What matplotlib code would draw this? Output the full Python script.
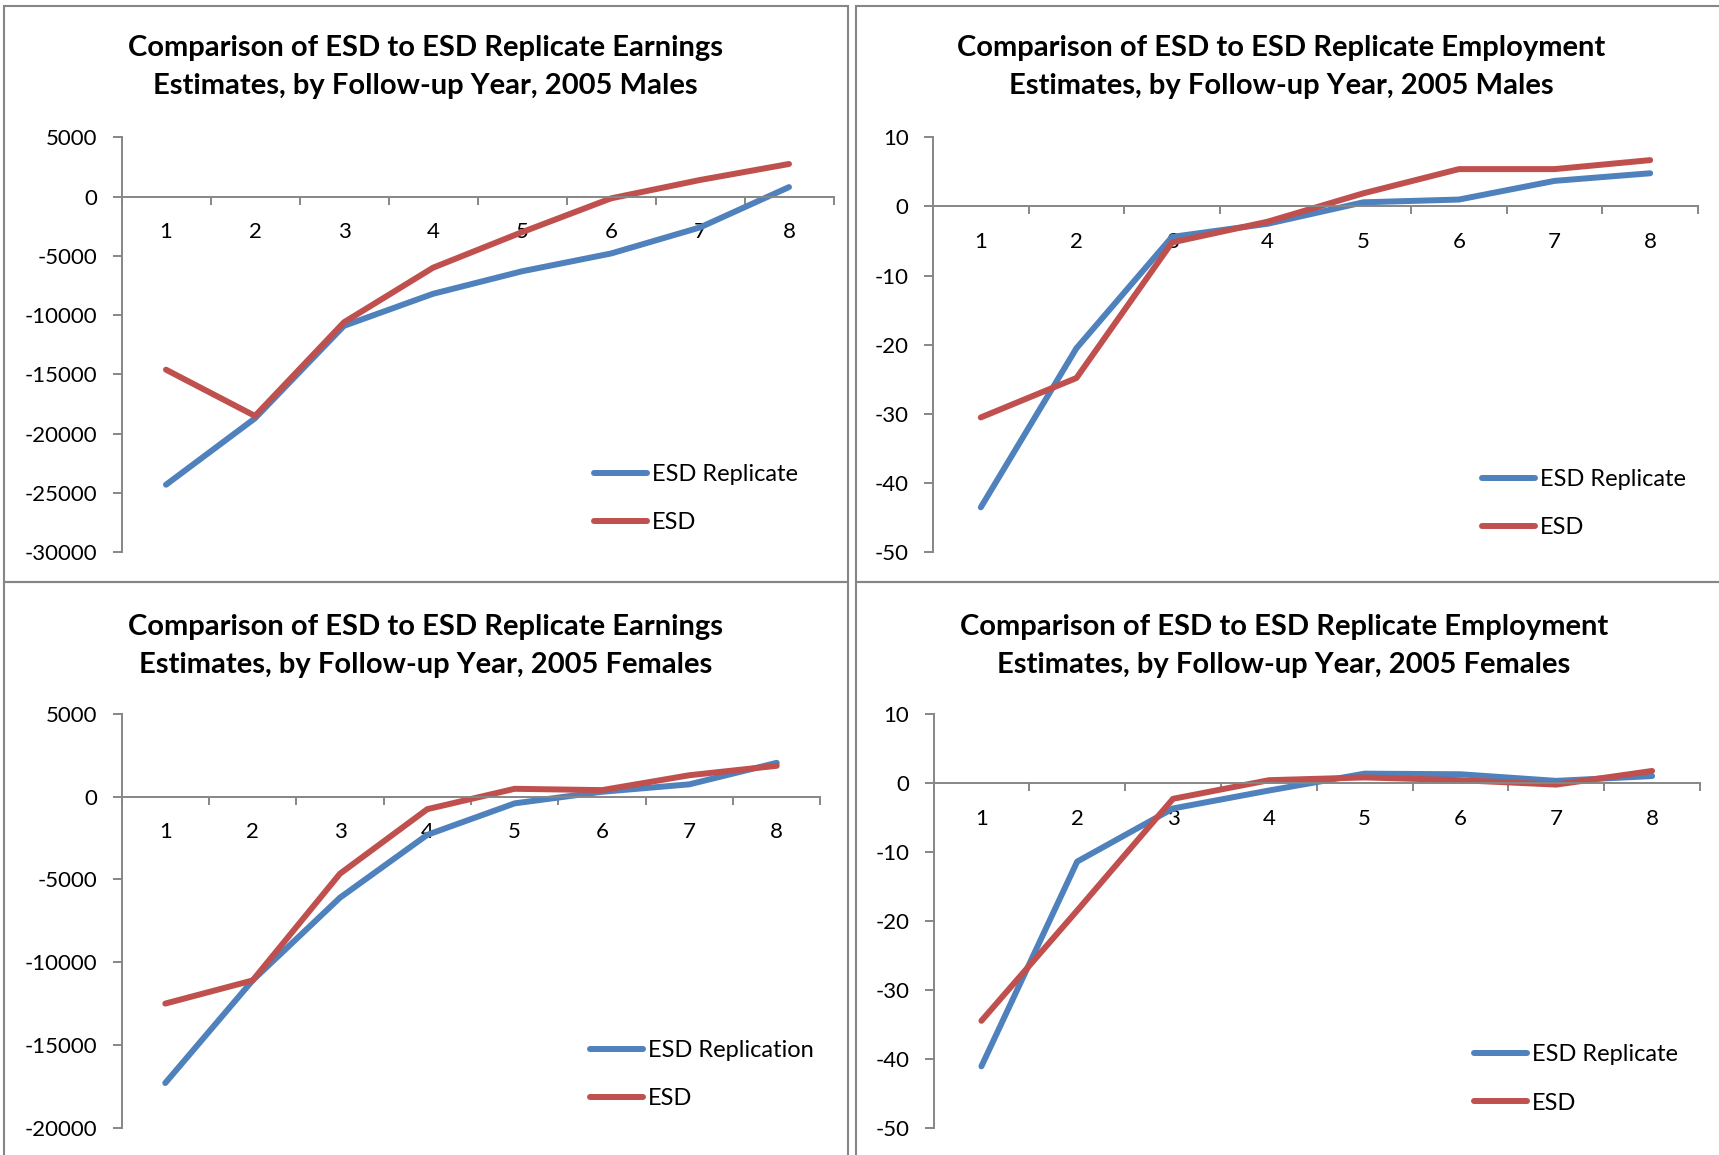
import matplotlib
matplotlib.use("Agg")
import matplotlib.pyplot as plt
from matplotlib.patches import Rectangle
from matplotlib.ticker import FixedLocator, NullFormatter

plt.rcParams['font.family'] = ['Lato', 'DejaVu Sans']

years = [1, 2, 3, 4, 5, 6, 7, 8]

earn_m_rep = [-24300, -18700, -10900, -8200, -6300, -4800, -2600, 800]
earn_m_esd = [-14600, -18500, -10600, -6000, -3000, -150, 1400, 2750]

emp_m_rep = [-43.5, -20.5, -4.4, -2.5, 0.6, 1.0, 3.7, 4.8]
emp_m_esd = [-30.5, -24.8, -5.2, -2.2, 1.9, 5.4, 5.4, 6.7]

earn_f_rep = [-17300, -11100, -6100, -2300, -400, 300, 750, 2050]
earn_f_esd = [-12500, -11100, -4650, -750, 480, 400, 1300, 1870]

emp_f_rep = [-41.1, -11.4, -3.7, -1.1, 1.35, 1.26, 0.3, 1.0]
emp_f_esd = [-34.5, -18.5, -2.3, 0.4, 0.8, 0.4, -0.24, 1.74]

titles = [
    "Comparison of ESD to ESD Replicate Earnings\nEstimates, by Follow-up Year, 2005 Males",
    "Comparison of ESD to ESD Replicate Employment\nEstimates, by Follow-up Year, 2005 Males",
    "Comparison of ESD to ESD Replicate Earnings\nEstimates, by Follow-up Year, 2005 Females",
    "Comparison of ESD to ESD Replicate Employment\nEstimates, by Follow-up Year, 2005 Females",
]
rep_labels = ["ESD Replicate", "ESD Replicate", "ESD Replication", "ESD Replicate"]

W, H = 1719, 1155
fig = plt.figure(figsize=(W / 100, H / 100), dpi=100)

GRAY = '#868686'
BLUE = '#4F81BD'
RED = '#C0504D'

def fx(px):
    return px / W

def fy(py):
    return 1 - py / H

# panel frames (pixel coords: left, top, right, bottom)
frames = [(4, 6, 848, 582), (856, 6, 1730, 582), (4, 582, 848, 1170), (856, 582, 1730, 1170)]
for (l, t, r, b) in frames:
    fig.patches.append(Rectangle((fx(l), fy(b)), fx(r - l), (b - t) / H,
                                 transform=fig.transFigure, fill=False,
                                 edgecolor=GRAY, linewidth=1.5))

# axes boxes (pixels: left, right, top, bottom)
boxes = [(121.5, 833.5, 137.3, 552.3), (933, 1698, 137.3, 552.3),
         (121.6, 820.4, 714, 1127.7), (933.5, 1700, 714, 1127.7)]
ylims = [(-30000, 5000), (-50, 10), (-20000, 5000), (-50, 10)]
ysteps = [5000, 10, 5000, 10]
series = [(earn_m_rep, earn_m_esd), (emp_m_rep, emp_m_esd),
          (earn_f_rep, earn_f_esd), (emp_f_rep, emp_f_esd)]
title_pos = [(425.5, 67), (1281, 67), (425.5, 646), (1284, 646)]
legend_pos = [(594, 498.5), (1482, 503.5), (590, 1074.5), (1474, 1079)]

for i in range(4):
    l, r, t, b = boxes[i]
    ax = fig.add_axes([fx(l), fy(b), fx(r - l), (b - t) / H])
    rep, esd = series[i]
    ax.plot(years, rep, color=BLUE, lw=4.3, solid_capstyle='round',
            solid_joinstyle='round', label=rep_labels[i])
    ax.plot(years, esd, color=RED, lw=4.3, solid_capstyle='round',
            solid_joinstyle='round', label="ESD")
    ax.set_xlim(0.5, 8.5)
    lo, hi = ylims[i]
    ax.set_ylim(lo, hi)
    step = ysteps[i]
    yt = list(range(lo, hi + step, step))
    ax.set_yticks(yt)
    ax.set_yticklabels([str(v) for v in yt])
    ax.spines['top'].set_visible(False)
    ax.spines['right'].set_visible(False)
    ax.spines['bottom'].set_position(('data', 0))
    for s in ['left', 'bottom']:
        ax.spines[s].set_color(GRAY)
        ax.spines[s].set_linewidth(1.4)
    ax.set_xticks(years)
    ax.set_xticklabels([str(y) for y in years])
    ax.xaxis.set_minor_locator(FixedLocator([k + 0.5 for k in range(0, 9)]))
    ax.xaxis.set_minor_formatter(NullFormatter())
    ax.tick_params(axis='x', which='major', length=0, pad=18.5, labelsize=16)
    ax.tick_params(axis='x', which='minor', length=6, width=1.4, color=GRAY, direction='out')
    ax.tick_params(axis='y', which='major', length=6.5, width=1.4, color=GRAY,
                   direction='out', pad=11, labelsize=16)
    ax.patch.set_alpha(0)

    leg = ax.legend(loc='center left', bbox_to_anchor=(fx(legend_pos[i][0]), fy(legend_pos[i][1])),
                    bbox_transform=fig.transFigure, frameon=False, fontsize=17,
                    handlelength=2.25, handletextpad=0.2, labelspacing=1.15,
                    borderpad=0, borderaxespad=0)

    tx, ty = title_pos[i]
    fig.text(fx(tx), fy(ty), titles[i], ha='center', va='center', fontsize=21,
             fontweight='bold', linespacing=1.6)

fig.savefig('out.png', dpi=100)
